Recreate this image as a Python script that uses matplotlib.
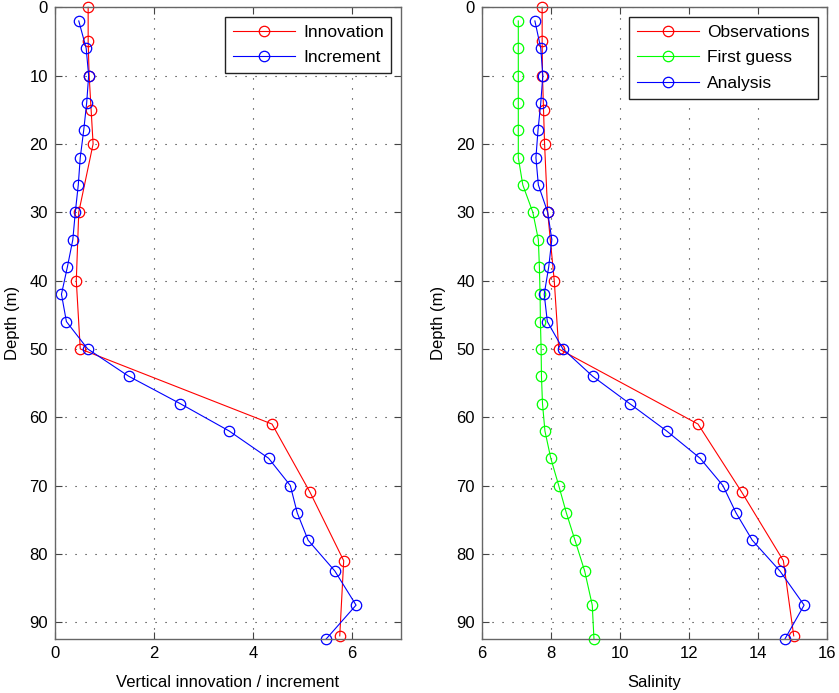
import numpy as np
import matplotlib
matplotlib.use('Agg')
import matplotlib.pyplot as plt

plt.rcParams['font.family'] = ['Liberation Sans', 'DejaVu Sans']

# depths of observations and of model levels
obs_depth = [0, 5, 10, 15, 20, 30, 40, 50, 61, 71, 81, 92]
mod_depth = [2, 6, 10, 14, 18, 22, 26, 30, 34, 38, 42, 46, 50, 54, 58, 62,
             66, 70, 74, 78, 82.5, 87.5, 92.5]

# left panel
innovation = [0.67, 0.67, 0.69, 0.73, 0.77, 0.48, 0.43, 0.51, 4.39, 5.16, 5.84, 5.76]
increment = [0.48, 0.63, 0.68, 0.64, 0.58, 0.51, 0.47, 0.41, 0.36, 0.25, 0.13, 0.23,
             0.66, 1.49, 2.53, 3.52, 4.32, 4.76, 4.90, 5.12, 5.66, 6.09, 5.48]

# right panel
observations = [7.75, 7.75, 7.76, 7.79, 7.82, 7.91, 8.10, 8.23, 12.26, 13.53, 14.73, 15.03]
first_guess = [7.06, 7.06, 7.06, 7.06, 7.06, 7.06, 7.19, 7.48, 7.64, 7.67, 7.69, 7.70,
               7.72, 7.73, 7.76, 7.83, 8.00, 8.23, 8.45, 8.70, 8.98, 9.20, 9.25]
analysis = [7.54, 7.71, 7.77, 7.71, 7.63, 7.57, 7.64, 7.91, 8.03, 7.94, 7.81, 7.90,
            8.35, 9.21, 10.28, 11.35, 12.32, 12.98, 13.36, 13.83, 14.63, 15.33, 14.77]

left_xticks = [0, 2, 4, 6]
right_xticks = [6, 8, 10, 12, 14, 16]
yticks = [0, 10, 20, 30, 40, 50, 60, 70, 80, 90]
right_ylabels = ['0', '', '20', '30', '40', '50', '60', '70', '80', '90']

fig = plt.figure(figsize=(8.39, 6.93), dpi=100)
ax1 = fig.add_axes([0.0656, 0.0775, 0.4124, 0.912])
ax2 = fig.add_axes([0.5741, 0.0775, 0.4119, 0.912])

mk = dict(marker='o', mfc='none', markersize=7.5, linewidth=0.8, markeredgewidth=0.9)

ax1.plot(innovation, obs_depth, color='#ff0000', label='Innovation', **mk)
ax1.plot(increment, mod_depth, color='#0000ff', label='Increment', **mk)
ax2.plot(observations, obs_depth, color='#ff0000', label='Observations', **mk)
ax2.plot(first_guess, mod_depth, color='#00ff00', label='First guess', **mk)
ax2.plot(analysis, mod_depth, color='#0000ff', label='Analysis', **mk)

for ax in (ax1, ax2):
    ax.set_ylim(92.5, 0)
    ax.set_yticks(yticks)
    ax.grid(True, linestyle=(0, (1, 8)), color='#222222', linewidth=0.8)
    ax.tick_params(direction='in', top=True, right=True, labelsize=12,
                   length=5, width=0.8, color='#444444', pad=5)
    for s in ax.spines.values():
        s.set_color('#666666')
        s.set_linewidth(1.0)
    ax.set_ylabel('Depth (m)', fontsize=12, labelpad=7)

ax1.set_xlim(0, 7)
ax1.set_xticks(left_xticks)
ax1.set_xlabel('Vertical innovation / increment', fontsize=12, labelpad=10)
ax2.set_xlim(6, 16)
ax2.set_xticks(right_xticks)
ax2.set_yticklabels(right_ylabels)
ax2.set_xlabel('Salinity', fontsize=12, labelpad=10)

for ax in (ax1, ax2):
    for ln in ax.get_lines():
        ln.set_clip_on(False)
    leg = ax.legend(loc='upper right', fontsize=12.5, fancybox=False,
                    framealpha=1, borderaxespad=0.55, handlelength=3.6,
                    handletextpad=0.45, borderpad=0.45, labelspacing=0.6)
    leg.get_frame().set_edgecolor('#222222')
    leg.get_frame().set_linewidth(1.0)

fig.savefig('out.png', dpi=100)
